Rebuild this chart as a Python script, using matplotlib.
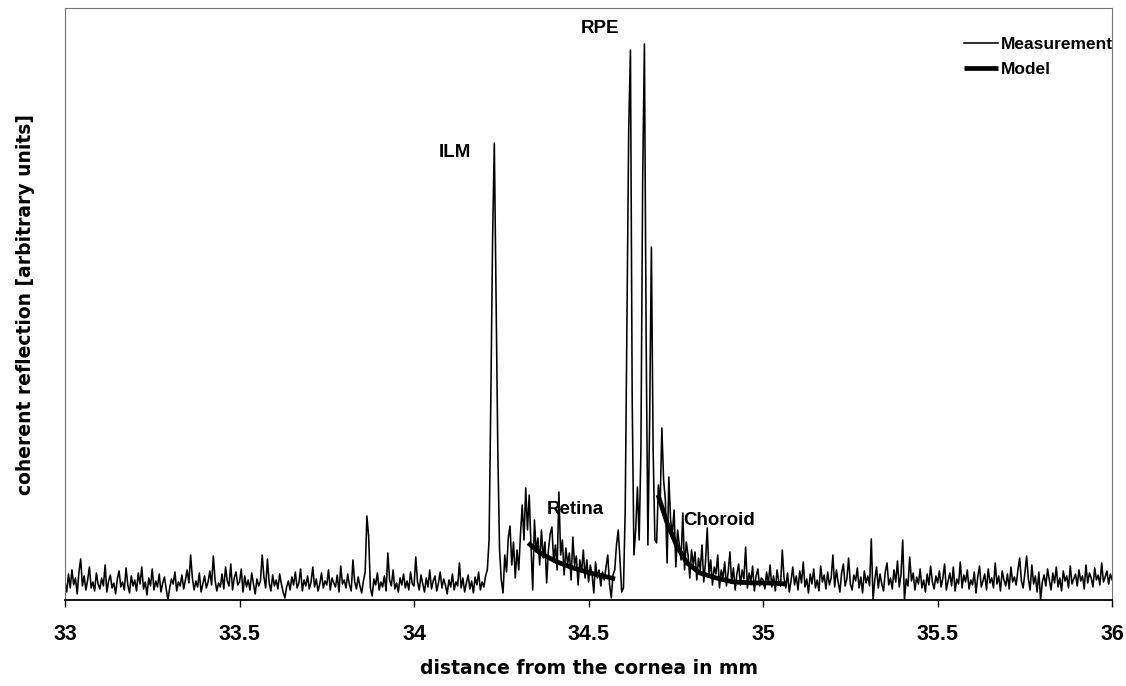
import numpy as np
import matplotlib
matplotlib.use("Agg")
import matplotlib.pyplot as plt
from matplotlib.ticker import MultipleLocator, FormatStrFormatter

plt.rcParams['font.family'] = ['Liberation Sans', 'DejaVu Sans']
plt.rcParams['font.weight'] = 'bold'

# measurement, sampled every 0.005 mm from 33 to 36 mm (heights in arbitrary units)
left_noise = [
    18, 8, 26, 12, 30, 15, 22, 6, 28, 41, 14, 24, 10, 20, 33, 12, 18, 9, 27, 16,
    11, 22, 14, 35, 8, 19, 25, 12, 17, 6, 21, 29, 13, 18, 10, 32, 15, 7, 24, 14,
    20, 9, 27, 16, 33, 11, 18, 5, 22, 14, 31, 10, 19, 13, 26, 8, 17, 23, 11, 0,
    12, 21, 16, 28, 9, 18, 14, 25, 11, 20, 30, 17, 45, 22, 10, 19, 13, 27, 8, 16,
    24, 12, 18, 29, 15, 44, 20, 9, 17, 13, 26, 11, 33, 19, 14, 36, 10, 22, 28, 15,
    18, 31, 8, 24, 13, 20, 10, 27, 16, 6, 21, 14, 19, 45, 23, 12, 41, 17, 9, 25,
    14, 20, 11, 26, 16, 8, 2, 13, 19, 10, 23, 15, 28, 12, 17, 31, 9, 20, 14, 24,
    11, 18, 33, 13, 21, 9, 16, 27, 12, 19, 15, 30, 10, 22, 17, 13, 25, 8, 34, 16,
    20, 12, 26, 15, 9, 40, 18, 11, 23, 14, 7, 19, 28, 84, 63, 12, 4, 21, 15, 27,
    10, 18, 13, 24, 9, 47, 20, 14, 30, 11, 17, 8, 22, 15, 26, 12, 19, 10, 28, 16,
]
retina = [
    14, 43, 18, 10, 25, 16, 8, 22, 13, 30, 11, 19, 24, 9, 17, 28, 12, 21, 15, 6,
    20, 13, 26, 10, 18, 14, 37, 12, 22, 8, 17, 25, 11, 19, 7, 23, 15, 28, 10, 18,
    13, 24, 30, 60, 200, 360, 457, 300, 150, 50, 20, 7, 45, 28, 62, 74, 35, 58, 22, 50,
    30, 66, 95, 60, 112, 70, 105, 55, 10, 80, 48, 62, 35, 70, 42, 58, 17, 50, 66, 73,
    38, 55, 30, 108, 45, 60, 25, 52, 36, 47, 20, 63, 34, 44, 15, 40, 28, 50, 22, 40,
    18, 35, 26, 7, 38, 22, 30, 14, 28, 20, 33, 45, 16, 2, 25, 30, 55, 70, 40, 8,
]
rpe = [
    12, 90, 280, 470, 550, 200, 45, 70, 113, 60, 150, 420, 556, 260, 55, 180, 353, 150, 60, 57,
    115, 95, 172, 120, 100, 37, 123, 80, 67, 90, 33, 70, 55, 40, 87, 30, 58, 45, 22, 50,
    35, 48, 20, 42, 30, 55, 18, 38, 72, 25, 40, 15, 33, 26, 45, 12, 30, 22, 38, 14,
    28, 48, 17, 32, 10, 26, 36, 15, 30, 21, 53, 12, 27, 18, 34, 9, 24, 31, 14, 22,
]
right_noise = [
    20, 11, 28, 16, 35, 13, 24, 9, 30, 18, 14, 50, 22, 12, 27, 8, 19, 33, 15, 24,
    10, 29, 17, 38, 13, 21, 7, 26, 16, 31, 12, 20, 9, 34, 18, 25, 11, 28, 15, 22,
    45, 13, 30, 18, 8, 27, 36, 14, 21, 42, 16, 10, 25, 19, 32, 12, 23, 7, 29, 17,
    24, 14, 61, 0, 20, 33, 12, 26, 16, 9, 28, 37, 15, 22, 11, 30, 18, 39, 13, 25,
    60, 0, 21, 14, 43, 19, 27, 10, 23, 16, 31, 12, 20, 8, 26, 15, 34, 18, 11, 24,
    17, 29, 13, 22, 36, 10, 19, 27, 14, 33, 9, 21, 16, 38, 12, 25, 18, 30, 11, 20,
    15, 28, 7, 23, 34, 13, 19, 26, 10, 31, 17, 22, 12, 37, 16, 24, 9, 29, 20, 14,
    26, 11, 33, 18, 23, 15, 30, 42, 19, 12, 27, 44, 21, 10, 35, 16, 24, 8, 28, 0,
    18, 25, 14, 31, 20, 10, 27, 17, 33, 13, 22, 9, 29, 19, 24, 12, 34, 16, 21, 26,
    14, 30, 19, 24, 11, 35, 17, 27, 22, 13, 32, 20, 25, 15, 37, 18, 23, 29, 16, 26,
    20,
]

# model fits
model_retina_x = [34.327, 34.361, 34.410, 34.456, 34.504, 34.553, 34.576]
model_retina_y = [57, 47, 38, 32, 27, 23, 21]
model_choroid_x = [34.699, 34.725, 34.754, 34.782, 34.819, 34.866, 34.914, 34.970, 35.011, 35.069]
model_choroid_y = [105, 77, 53, 37, 27, 22, 18, 17, 17, 16]

signal = np.array(left_noise + retina + rpe + right_noise)
dist = np.linspace(33, 36, len(signal))

fig = plt.figure(figsize=(11.26, 6.86), dpi=100)
ax = fig.add_axes([0.0577, 0.1254, 0.93, 0.8629])

ax.plot(dist, signal, color='black', lw=1.15, label='Measurement')
ax.plot(model_retina_x, model_retina_y, color='black', lw=3.4, solid_capstyle='butt', label='Model')
ax.plot(model_choroid_x, model_choroid_y, color='black', lw=3.4, solid_capstyle='butt')

ax.set_xlim(33, 36)
ax.set_ylim(0, 592)
ax.xaxis.set_major_locator(MultipleLocator(0.5))
ax.xaxis.set_major_formatter(FormatStrFormatter('%g'))
ax.set_yticks([])
ax.tick_params(axis='x', direction='out', length=5, width=1, pad=12, labelsize=15.5)

for s in ['top', 'left', 'right']:
    ax.spines[s].set_color('0.45')
    ax.spines[s].set_linewidth(0.8)
ax.spines['bottom'].set_linewidth(1.3)

ax.set_xlabel('distance from the cornea in mm', fontsize=13.5, fontweight='bold', family='DejaVu Sans')
ax.xaxis.set_label_coords(0.5, -0.1)
ax.set_ylabel('coherent reflection [arbitrary units]', fontsize=13.5, fontweight='bold', family='DejaVu Sans')
ax.yaxis.set_label_coords(-0.029, 0.5)

lab = dict(fontsize=13.5, fontweight='bold', ha='center', va='center')
ax.text(34.117, 448, 'ILM', **lab)
ax.text(34.533, 572, 'RPE', **lab)
ax.text(34.461, 90, 'Retina', zorder=1, **lab)
ax.text(34.874, 79, 'Choroid', **lab)

ax.legend(loc='upper right', bbox_to_anchor=(1.001, 0.952), frameon=False, fontsize=12.5,
          handlelength=2.0, handletextpad=0.15, labelspacing=0.6, borderpad=0, borderaxespad=0)

fig.savefig('out.png', dpi=100)
